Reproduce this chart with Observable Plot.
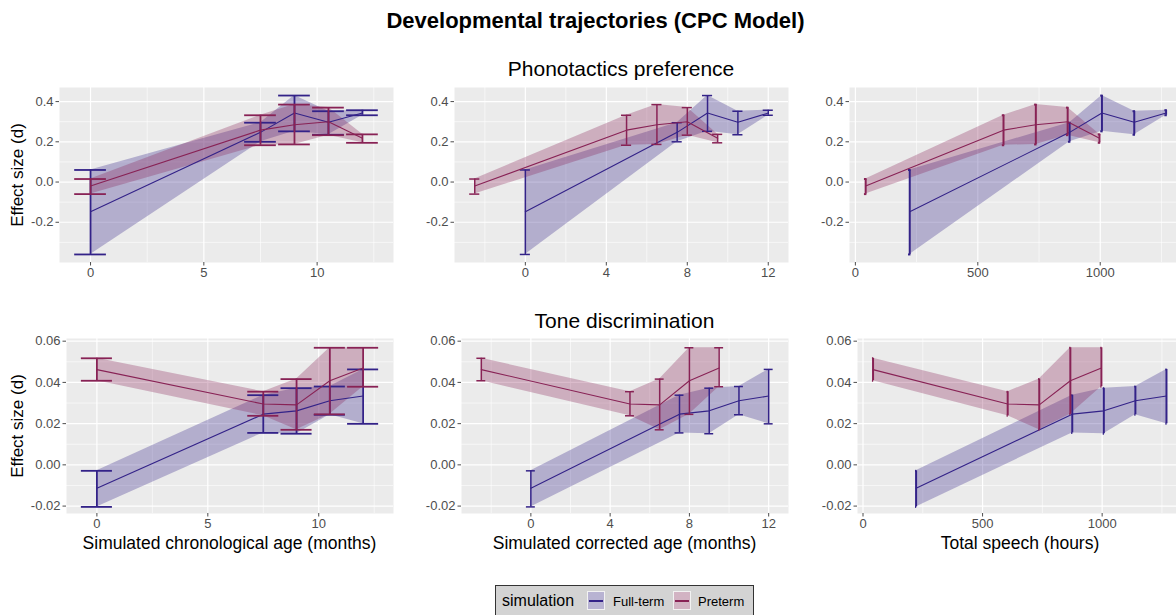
<!DOCTYPE html>
<html><head><meta charset="utf-8">
<script src="https://cdn.jsdelivr.net/npm/d3@7"></script>
<script src="https://cdn.jsdelivr.net/npm/@observablehq/plot@0.6"></script>
<style>
body{margin:0;background:#fff;font-family:"Liberation Sans",Arial,Helvetica,sans-serif;}
#wrap{position:relative;width:1176px;height:615px;overflow:hidden;background:#fff;}
.abs{position:absolute;}
.txt{position:absolute;white-space:nowrap;line-height:1;color:#000;}
svg{overflow:visible;max-width:none !important;}
</style></head><body><div id="wrap"></div>
<script>
// ---------- data ----------
const groups = ["Full-term", "Preterm"];
const ageChronoFull = [0, 7.5, 9, 10.5, 12];
const ageChronoPre = [0, 7.5, 9, 10.5, 12];
const ageCorrFull = [0, 7.5, 9, 10.5, 12];
const ageCorrPre = [-2.5, 5, 6.5, 8, 9.5];
const speechFull = [222, 875, 1007, 1139, 1269];
const speechPre = [42, 605, 737, 867, 997];

const phonFullMean = [-0.148, 0.247, 0.343, 0.297, 0.343];
const phonFullLo   = [-0.360, 0.200, 0.252, 0.235, 0.332];
const phonFullHi   = [ 0.060, 0.295, 0.430, 0.352, 0.357];
const phonPreMean  = [-0.020, 0.258, 0.285, 0.300, 0.218];
const phonPreLo    = [-0.060, 0.183, 0.187, 0.233, 0.195];
const phonPreHi    = [ 0.015, 0.332, 0.385, 0.370, 0.237];

const toneFullMean = [-0.0113, 0.0246, 0.0262, 0.0311, 0.0334];
const toneFullLo   = [-0.0204, 0.0155, 0.0151, 0.0243, 0.0199];
const toneFullHi   = [-0.0029, 0.0338, 0.0372, 0.0380, 0.0463];
const tonePreMean  = [ 0.0462, 0.0295, 0.0291, 0.0408, 0.0470];
const tonePreLo    = [ 0.0408, 0.0238, 0.0170, 0.0245, 0.0379];
const tonePreHi    = [ 0.0517, 0.0355, 0.0416, 0.0568, 0.0568];

const ticksAgeMajor = [0, 5, 10];
const ticksAgeMinor = [2.5, 7.5, 12.5];
const ticksCorrMajor = [0, 4, 8, 12];
const ticksCorrMinor = [-2, 2, 6, 10];
const ticksSpeechMajor = [0, 500, 1000];
const ticksSpeechMinor = [250, 750, 1250];
const ticksPhonMajor = [-0.2, 0.0, 0.2, 0.4];
const ticksPhonMinor = [-0.3, -0.1, 0.1, 0.3];
const ticksToneMajor = [-0.02, 0.00, 0.02, 0.04, 0.06];
const ticksToneMinor = [-0.01, 0.01, 0.03, 0.05];

const title = "Developmental trajectories (CPC Model)";
const stripTitles = ["Phonotactics preference", "Tone discrimination"];
const xTitles = ["Simulated chronological age (months)", "Simulated corrected age (months)", "Total speech (hours)"];
const yTitle = "Effect size (d)";
const legendTitle = "simulation";

const BLUE = "#332288", RED = "#882255";
const FONT = '"Liberation Sans", Arial, Helvetica, sans-serif';

function rows(xs, m, lo, hi) { return xs.map((x, i) => ({x, m: m[i], lo: lo[i], hi: hi[i]})); }

const wrap = document.getElementById("wrap");

function panel(p) {
  const ML = 60, MR = 10, MT = 6, MB = 26;
  const series = [[p.full, BLUE], [p.pre, RED]];
  const marks = [
    Plot.frame({fill: "#ebebeb", stroke: "none"}),
    Plot.ruleX(p.xMinor, {stroke: "#fff", strokeWidth: 0.6}),
    Plot.ruleY(p.yMinor, {stroke: "#fff", strokeWidth: 0.6}),
    Plot.ruleX(p.xMajor, {stroke: "#fff", strokeWidth: 1.2}),
    Plot.ruleY(p.yMajor, {stroke: "#fff", strokeWidth: 1.2})
  ];
  for (const [d, c] of series) marks.push(Plot.areaY(d, {x: "x", y1: "lo", y2: "hi", fill: c, fillOpacity: 0.3}));
  for (const [d, c] of series) {
    marks.push(Plot.lineY(d, {x: "x", y: "m", stroke: c, strokeWidth: 1.1}));
    marks.push(Plot.ruleX(d, {x: "x", y1: "lo", y2: "hi", stroke: c, strokeWidth: p.barW}));
    marks.push(Plot.ruleY(d, {y: "hi", x1: r => r.x - p.capW / 2, x2: r => r.x + p.capW / 2, stroke: c, strokeWidth: p.barW}));
    marks.push(Plot.ruleY(d, {y: "lo", x1: r => r.x - p.capW / 2, x2: r => r.x + p.capW / 2, stroke: c, strokeWidth: p.barW}));
  }
  marks.push(Plot.axisX(p.xMajor, {tickSize: 3.5, tickPadding: 2, tickFormat: d => String(d), color: "#4d4d4d", fontSize: 13, label: null}));
  marks.push(Plot.axisY(p.yMajor, {tickSize: 3.5, tickPadding: 2.5, tickFormat: d => (Math.abs(d) < 1e-9 ? 0 : d).toFixed(p.yDigits), color: "#4d4d4d", fontSize: 13, label: null}));
  const W = p.w + ML + MR, H = p.h + MT + MB;
  const svg = Plot.plot({
    width: W, height: H,
    marginLeft: ML, marginRight: MR, marginTop: MT, marginBottom: MB,
    x: {domain: p.xDomain}, y: {domain: p.yDomain},
    style: {fontFamily: FONT, fontSize: "13px", background: "transparent", overflow: "visible", maxWidth: "none"},
    marks
  });
  svg.style.maxWidth = "none";
  svg.style.width = W + "px";
  svg.style.height = H + "px";
  const div = document.createElement("div");
  div.className = "abs";
  div.style.left = (p.left - ML) + "px";
  div.style.top = (p.top - MT) + "px";
  div.style.width = W + "px";
  div.style.height = H + "px";
  div.appendChild(svg);
  wrap.appendChild(div);
}

const phonY = [-0.40, 0.47], toneY = [-0.0236, 0.0613];

panel({left: 59, top: 87, w: 334, h: 175, xDomain: [-1.37, 13.37], yDomain: phonY,
  xMajor: ticksAgeMajor, xMinor: ticksAgeMinor, yMajor: ticksPhonMajor, yMinor: ticksPhonMinor, yDigits: 1,
  full: rows(ageChronoFull, phonFullMean, phonFullLo, phonFullHi), pre: rows(ageChronoPre, phonPreMean, phonPreLo, phonPreHi), capW: 1.4, barW: 1.8});
panel({left: 454, top: 87, w: 334, h: 175, xDomain: [-3.5, 13], yDomain: phonY,
  xMajor: ticksCorrMajor, xMinor: ticksCorrMinor, yMajor: ticksPhonMajor, yMinor: ticksPhonMinor, yDigits: 1,
  full: rows(ageCorrFull, phonFullMean, phonFullLo, phonFullHi), pre: rows(ageCorrPre, phonPreMean, phonPreLo, phonPreHi), capW: 0.5, barW: 1.5});
panel({left: 849, top: 87, w: 333, h: 175, xDomain: [-24, 1336], yDomain: phonY,
  xMajor: ticksSpeechMajor, xMinor: ticksSpeechMinor, yMajor: ticksPhonMajor, yMinor: ticksPhonMinor, yDigits: 1,
  full: rows(speechFull, phonFullMean, phonFullLo, phonFullHi), pre: rows(speechPre, phonPreMean, phonPreLo, phonPreHi), capW: 10, barW: 2});
panel({left: 66, top: 338, w: 327, h: 175, xDomain: [-1.37, 13.37], yDomain: toneY,
  xMajor: ticksAgeMajor, xMinor: ticksAgeMinor, yMajor: ticksToneMajor, yMinor: ticksToneMinor, yDigits: 2,
  full: rows(ageChronoFull, toneFullMean, toneFullLo, toneFullHi), pre: rows(ageChronoPre, tonePreMean, tonePreLo, tonePreHi), capW: 1.4, barW: 1.8});
panel({left: 461, top: 338, w: 327, h: 175, xDomain: [-3.5, 13], yDomain: toneY,
  xMajor: ticksCorrMajor, xMinor: ticksCorrMinor, yMajor: ticksToneMajor, yMinor: ticksToneMinor, yDigits: 2,
  full: rows(ageCorrFull, toneFullMean, toneFullLo, toneFullHi), pre: rows(ageCorrPre, tonePreMean, tonePreLo, tonePreHi), capW: 0.45, barW: 1.5});
panel({left: 857, top: 338, w: 325, h: 175, xDomain: [-23, 1336], yDomain: toneY,
  xMajor: ticksSpeechMajor, xMinor: ticksSpeechMinor, yMajor: ticksToneMajor, yMinor: ticksToneMinor, yDigits: 2,
  full: rows(speechFull, toneFullMean, toneFullLo, toneFullHi), pre: rows(speechPre, tonePreMean, tonePreLo, tonePreHi), capW: 5, barW: 2});

function addText(t, cx, cy, size, opts = {}) {
  const d = document.createElement("div");
  d.className = "txt";
  d.textContent = t;
  d.style.left = cx + "px";
  d.style.top = cy + "px";
  d.style.fontSize = size + "px";
  if (opts.bold) d.style.fontWeight = "bold";
  d.style.transform = "translate(-50%,-50%)" + (opts.rotate ? " rotate(-90deg)" : "");
  wrap.appendChild(d);
}
addText(title, 595.5, 21, 22, {bold: true});
addText(stripTitles[0], 621, 68, 21);
addText(stripTitles[1], 624.5, 320, 21);
addText(yTitle, 17, 174.5, 17, {rotate: true});
addText(yTitle, 17, 425.5, 17, {rotate: true});
addText(xTitles[0], 229.5, 544, 17.5);
addText(xTitles[1], 624.5, 544, 17.5);
addText(xTitles[2], 1020, 544, 17.5);

// legend
const leg = document.createElement("div");
leg.className = "abs";
Object.assign(leg.style, {left: "495px", top: "585px", width: "259px", height: "40px", background: "#d3d3d3", border: "1px solid #333", boxSizing: "border-box"});
wrap.appendChild(leg);
function legText(t, x, size) {
  const d = document.createElement("div");
  d.className = "txt";
  d.textContent = t;
  Object.assign(d.style, {left: x + "px", top: "601px", fontSize: size + "px", transform: "translateY(-50%)"});
  wrap.appendChild(d);
}
function legKey(x, c) {
  const k = document.createElement("div");
  k.className = "abs";
  Object.assign(k.style, {left: x + "px", top: "591px", width: "18px", height: "19px", background: "#f2f2f2"});
  const inner = document.createElement("div");
  inner.className = "abs";
  Object.assign(inner.style, {left: "1px", top: "1px", width: "16px", height: "17px", background: c, opacity: "0.3"});
  const line = document.createElement("div");
  line.className = "abs";
  Object.assign(line.style, {left: "2px", top: "8.5px", width: "14px", height: "2px", background: c});
  k.appendChild(inner); k.appendChild(line);
  wrap.appendChild(k);
}
legText(legendTitle, 502, 16);
legKey(587, BLUE);
legText(groups[0], 613, 13);
legKey(673, RED);
legText(groups[1], 698, 13);
</script></body></html>
